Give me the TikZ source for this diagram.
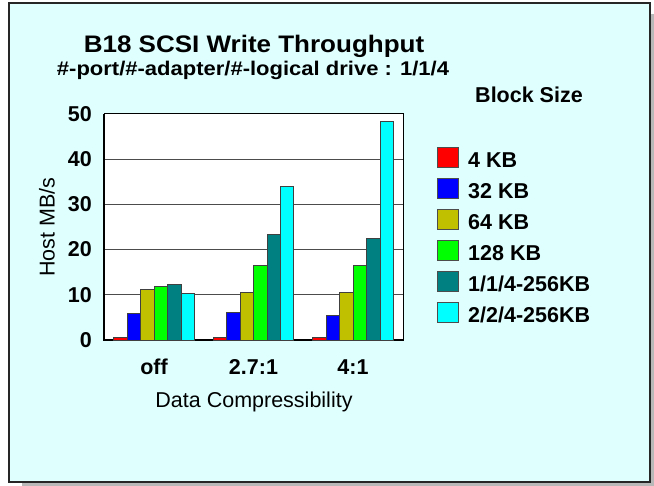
\documentclass[tikz,border=0pt]{standalone}
\usepackage{fontspec}
\setmainfont{Liberation Sans}

\definecolor{panel}{RGB}{223,255,255}
\definecolor{kbA}{RGB}{255,0,0}
\definecolor{kbB}{RGB}{0,0,255}
\definecolor{kbC}{RGB}{192,192,0}
\definecolor{kbD}{RGB}{0,255,0}
\definecolor{kbE}{RGB}{0,128,128}
\definecolor{kbF}{RGB}{0,255,255}

\begin{document}
\begin{tikzpicture}[x=1pt, y=-1pt,
  bar/.style={draw=black!75, line width=0.8pt},
  boldlab/.style={font=\fontsize{21.5}{24}\selectfont\bfseries, inner sep=0pt},
  plainlab/.style={font=\fontsize{21.5}{24}\selectfont, inner sep=0pt}]
\useasboundingbox (0,0) rectangle (654,486);

% panel and its shadow
\fill[black!28] (22,14) rectangle (654,486);
\draw[fill=panel, draw=black!85, line width=1.5pt] (9,3) rectangle (650,482);

% titles (set a little flatter than the font)
\node[anchor=base, inner sep=0pt, font=\fontsize{26}{30}\selectfont\bfseries] (title) at (254,53) {\scalebox{1}[0.92]{B18 SCSI Write Throughput}};
\node[anchor=base, inner sep=0pt, font=\fontsize{22}{26}\selectfont\bfseries] (subtitle) at (253,76) {\scalebox{1}[0.9]{\#-port/\#-adapter/\#-logical drive : 1/1/4}};

% plot area, grid and axes (10 MB/s = 45.2)
\fill[white] (104,114) rectangle (403,340);
\foreach \v in {10,20,30,40}
  \draw[black!70, line width=1pt] (104,340-4.52*\v) -- (403,340-4.52*\v);
\draw[line width=1pt] (104,114) -- (403,114) -- (403,340);
\draw[line width=2pt] (104,114) -- (104,340) -- (404,340);
\foreach \v in {0,10,...,50}
  \node[boldlab, anchor=east] (tick\v) at (92,340-4.52*\v) {\v};
\node[plainlab, rotate=90] (ylabel) at (47,227) {Host MB/s};

% bars: group centre, then the six block sizes
\foreach \cx/\vals in {154/{0.6,5.9,11.2,11.8,12.4,10.3},
                       253.5/{0.6,6.0,10.5,16.4,23.3,33.9},
                       353/{0.6,5.5,10.5,16.6,22.5,48.4}}
  \foreach \v [count=\i] in \vals {
    \pgfmathsetmacro\xl{\cx+(\i-4)*13.45}
    \ifcase\i\or\def\bc{kbA}\or\def\bc{kbB}\or\def\bc{kbC}\or\def\bc{kbD}\or\def\bc{kbE}\or\def\bc{kbF}\fi
    \draw[bar, fill=\bc] (\xl,340) rectangle (\xl+13.45,340-4.52*\v);
  }

% category axis
\node[boldlab, anchor=base] (off) at (154,375) {off};
\node[boldlab, anchor=base] (mid) at (253.5,375) {2.7:1};
\node[boldlab, anchor=base] (high) at (353,375) {4:1};
\node[plainlab, anchor=base] (xlabel) at (254,408) {Data Compressibility};

% legend
\node[boldlab, anchor=base] (key) at (529,103) {Block Size};
\foreach \c/\t [count=\k] in {kbA/{4 KB}, kbB/{32 KB}, kbC/{64 KB}, kbD/{128 KB}, kbE/{1/1/4-256KB}, kbF/{2/2/4-256KB}} {
  \draw[draw=black!70, line width=0.8pt, fill=\c] (437,116.5+31*\k) rectangle (458,136.5+31*\k);
  \node[boldlab, anchor=base west] (key\k) at (468,136.5+31*\k) {\t};
}
\end{tikzpicture}
\end{document}
